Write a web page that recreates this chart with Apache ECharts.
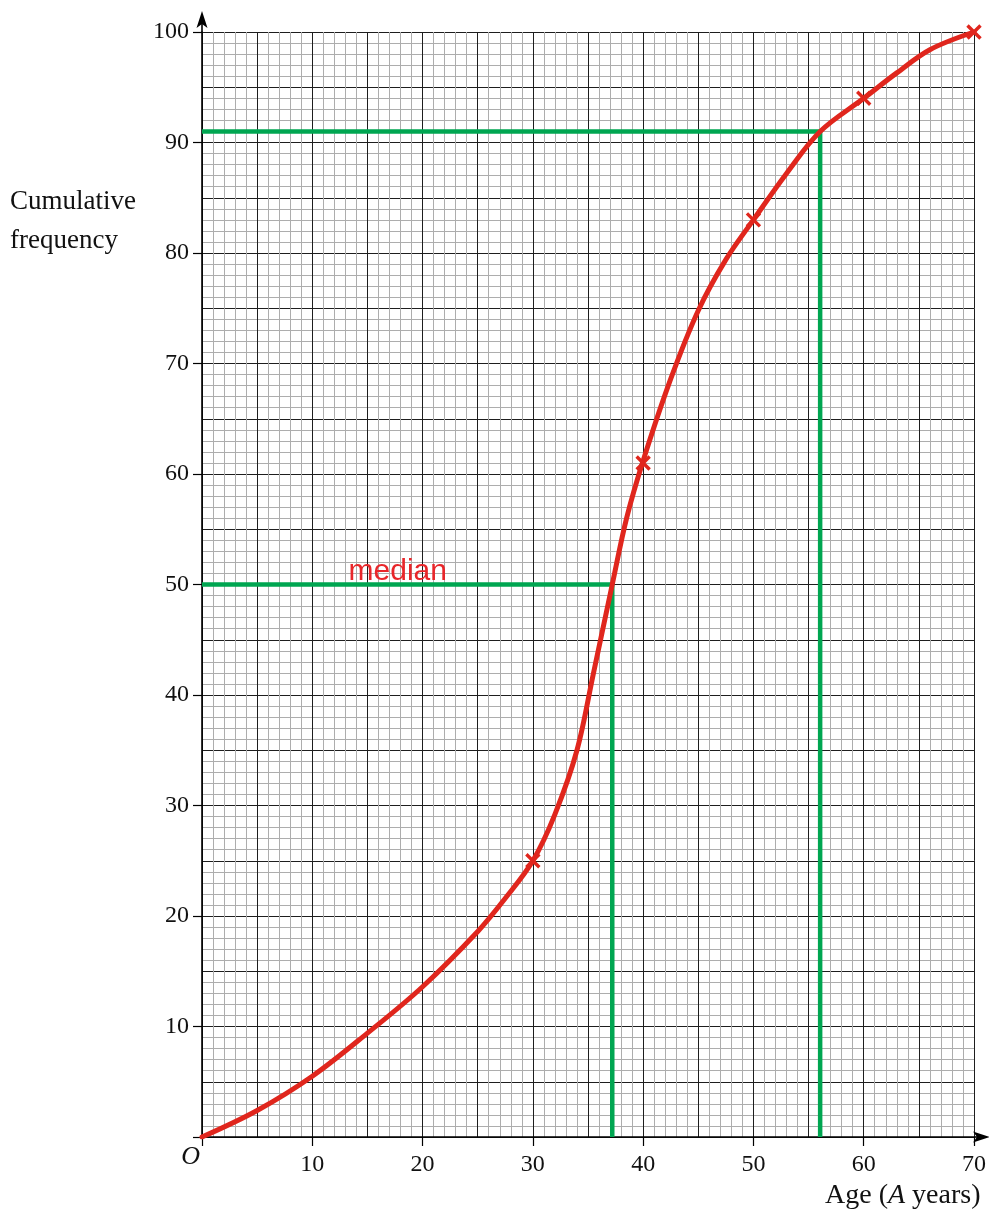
<!DOCTYPE html>
<html>
<head>
<meta charset="utf-8">
<script src="https://cdn.jsdelivr.net/npm/echarts@6/dist/echarts.min.js"></script>
<style>
html,body{margin:0;padding:0;background:#fff;}
#chart{width:989px;height:1210px;}
</style>
</head>
<body>
<div id="chart"></div>
<script>
// ---- data ----
const plottedAge = [30, 40, 50, 60, 70];
const plottedCF  = [25, 61, 83, 94, 100];

// cumulative frequency curve
const curveAge = [0, 5, 10, 15, 20, 25, 27.5, 30, 32, 34, 35.5, 37.2, 38.5, 40, 42.5, 45, 47.5, 50, 53, 56.05, 60, 63, 66, 70];
const curveCF  = [0, 2.4, 5.5, 9.4, 13.6, 18.6, 21.6, 25, 29.2, 35, 42, 50, 56, 61.2, 68.6, 74.8, 79.4, 83, 87.2, 91, 94, 96.3, 98.4, 100];

// reading lines (median and upper reading)
const medianAge = 37.2, medianCF = 50;
const upperAge = 56.05, upperCF = 91;

// tick labels
const xTickValues = [0, 10, 20, 30, 40, 50, 60, 70];
const xTickLabels = ['', '10', '20', '30', '40', '50', '60', '70'];
const yTickValues = [0, 10, 20, 30, 40, 50, 60, 70, 80, 90, 100];
const yTickLabels = ['', '10', '20', '30', '40', '50', '60', '70', '80', '90', '100'];

const medianText = 'median';
const xTitle = ['Age (', 'A', ' years)'];
const yTitle = ['Cumulative', 'frequency'];
const originText = 'O';

// ---- chart ----
const RED = '#e0261d';
const GREEN = '#00a651';
const SERIF = '"Liberation Serif", "Times New Roman", serif';

const chart = echarts.init(document.getElementById('chart'), null, {renderer: 'canvas'});

const curveData = curveAge.map((a, i) => [a, curveCF[i]]);
const markData = plottedAge.map((a, i) => [a, plottedCF[i]]);

const gridAxisX = {
  type: 'value', min: 0, max: 70, interval: 5, position: 'bottom',
  axisLine: {show: false}, axisTick: {show: false}, axisLabel: {show: false},
  splitLine: {show: true, lineStyle: {color: '#1e1e1e', width: 1}},
  minorTick: {show: false, splitNumber: 5},
  minorSplitLine: {show: true, lineStyle: {color: '#adadad', width: 1}}
};
const labelAxisX = {
  type: 'value', min: 0, max: 70, interval: 10, position: 'bottom',
  axisLine: {show: true, onZero: false, lineStyle: {color: '#000', width: 1.6}},
  axisTick: {show: true, length: 9, lineStyle: {color: '#000', width: 1.2}},
  axisLabel: {
    margin: 16, fontFamily: SERIF, fontSize: 24, color: '#111',
    formatter: v => { const i = xTickValues.indexOf(v); return i >= 0 ? xTickLabels[i] : ''; }
  },
  splitLine: {show: false}
};
const gridAxisY = {
  type: 'value', min: 0, max: 100, interval: 5, position: 'left',
  axisLine: {show: false}, axisTick: {show: false}, axisLabel: {show: false},
  splitLine: {show: true, lineStyle: {color: '#1e1e1e', width: 1}},
  minorTick: {show: false, splitNumber: 5},
  minorSplitLine: {show: true, lineStyle: {color: '#adadad', width: 1}}
};
const labelAxisY = {
  type: 'value', min: 0, max: 100, interval: 10, position: 'left',
  axisLine: {show: true, onZero: false, lineStyle: {color: '#000', width: 1.6}},
  axisTick: {show: true, length: 9, lineStyle: {color: '#000', width: 1.2}},
  axisLabel: {
    margin: 13, fontFamily: SERIF, fontSize: 24, color: '#111',
    formatter: v => { const i = yTickValues.indexOf(v); return i >= 0 ? yTickLabels[i] : ''; }
  },
  splitLine: {show: false}
};

const option = {
  animation: false,
  backgroundColor: '#ffffff',
  grid: {left: 202, right: 14, top: 32, bottom: 73, containLabel: false},
  xAxis: [gridAxisX, labelAxisX],
  yAxis: [gridAxisY, labelAxisY],
  series: [
    {
      type: 'line', name: 'median', xAxisIndex: 0, yAxisIndex: 0,
      data: [[0, medianCF], [medianAge, medianCF], [medianAge, 0]],
      symbol: 'none', lineStyle: {color: GREEN, width: 4.5}, z: 3
    },
    {
      type: 'line', name: 'upper', xAxisIndex: 0, yAxisIndex: 0,
      data: [[0, upperCF], [upperAge, upperCF], [upperAge, 0]],
      symbol: 'none', lineStyle: {color: GREEN, width: 4.5}, z: 3
    },
    {
      type: 'line', name: 'curve', xAxisIndex: 0, yAxisIndex: 0,
      data: curveData, smooth: 0.35,
      symbol: 'none', lineStyle: {color: RED, width: 5, cap: 'round'}, z: 4
    },
    {
      type: 'scatter', name: 'points', xAxisIndex: 0, yAxisIndex: 0,
      data: markData,
      symbol: 'path://M0,0L10,10M10,0L0,10', symbolSize: 13,
      itemStyle: {color: 'rgba(0,0,0,0)', borderColor: RED, borderWidth: 3.4, opacity: 1},
      z: 5
    }
  ]
};
chart.setOption(option);

function px(p) { return chart.convertToPixel({xAxisIndex: 0, yAxisIndex: 0}, p); }

const o = px([0, 0]);
const yTop = px([0, 100]);
const xEnd = px([70, 0]);
const med = px([13.2, medianCF]);

const yTipY = yTop[1] - 21;
const xTipX = xEnd[0] + 16;

chart.setOption({
  graphic: [
    {type: 'line', shape: {x1: o[0], y1: yTop[1], x2: o[0], y2: yTipY + 8}, style: {stroke: '#000', lineWidth: 1.6}, z: 10},
    {type: 'polygon', shape: {points: [[o[0], yTipY], [o[0] + 5.5, yTipY + 17], [o[0], yTipY + 13], [o[0] - 5.5, yTipY + 17]]}, style: {fill: '#000'}, z: 10},
    {type: 'line', shape: {x1: xEnd[0], y1: o[1], x2: xTipX - 8, y2: o[1]}, style: {stroke: '#000', lineWidth: 1.6}, z: 10},
    {type: 'polygon', shape: {points: [[xTipX, o[1]], [xTipX - 17, o[1] - 5.5], [xTipX - 13, o[1]], [xTipX - 17, o[1] + 5.5]]}, style: {fill: '#000'}, z: 10},
    {type: 'text', x: o[0] - 2, y: o[1] + 20, z: 10,
      style: {text: originText, font: 'italic 26px ' + SERIF, fill: '#111', align: 'right', verticalAlign: 'middle'}},
    {type: 'text', x: 10, y: 202, z: 10,
      style: {text: yTitle[0], font: '27px ' + SERIF, fill: '#111', align: 'left', verticalAlign: 'middle'}},
    {type: 'text', x: 10, y: 241, z: 10,
      style: {text: yTitle[1], font: '27px ' + SERIF, fill: '#111', align: 'left', verticalAlign: 'middle'}},
    {type: 'text', x: 825, y: 1196, z: 10,
      style: {
        text: '{n|' + xTitle[0] + '}{i|' + xTitle[1] + '}{n|' + xTitle[2] + '}',
        align: 'left', verticalAlign: 'middle',
        rich: {
          n: {fontFamily: SERIF, fontSize: 28, fill: '#111'},
          i: {fontFamily: SERIF, fontSize: 28, fontStyle: 'italic', fill: '#111'}
        }
      }},
    {type: 'text', x: med[0] + 1, y: med[1] - 13, z: 10,
      style: {text: medianText, font: '30px "Liberation Sans", Arial, sans-serif', fill: '#e8262a', align: 'left', verticalAlign: 'middle'}}
  ]
});
</script>
</body>
</html>
